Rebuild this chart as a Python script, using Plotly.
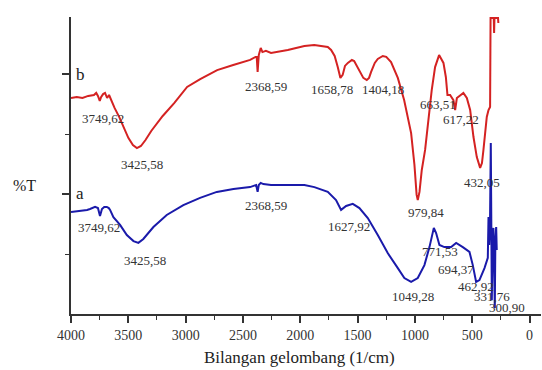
import plotly.graph_objects as go

# Spectrum b (red), wavenumber (1/cm) and transmittance (arbitrary %T units)
wn_b = [4000, 3950, 3900, 3850, 3800, 3780, 3765, 3749, 3738, 3720, 3703, 3685, 3668, 3650,
        3620, 3580, 3540, 3500, 3460, 3425, 3390, 3350, 3300, 3200, 3100, 2987, 2873, 2725,
        2585, 2437, 2390, 2380, 2372, 2362, 2345, 2330, 2300, 2255, 2109, 1964, 1878, 1818,
        1760, 1731, 1700, 1673, 1650, 1630, 1610, 1585, 1550, 1530, 1487, 1450, 1420, 1400,
        1382, 1350, 1324, 1280, 1250, 1208, 1149, 1094, 1033, 1004, 985, 975, 960, 940, 911,
        882, 853, 824, 789, 751, 730, 716, 693, 664, 649, 634, 605, 577, 547, 518, 489, 460,
        431, 415, 402, 373, 358, 344, 340, 312, 309, 306, 275, 272]
t_b = [72.0, 72.3, 72.0, 72.7, 73.0, 73.7, 72.7, 71.0, 72.3, 73.3, 73.7, 72.0, 73.0, 71.3,
       68.7, 65.7, 62.0, 58.7, 56.3, 55.3, 56.0, 58.0, 61.0, 66.0, 70.3, 75.7, 78.3, 81.3,
       83.0, 84.7, 85.7, 85.7, 80.7, 86.3, 88.7, 87.3, 87.7, 87.0, 88.0, 89.3, 89.7, 89.3,
       89.0, 88.0, 86.0, 82.3, 78.7, 79.7, 82.7, 83.7, 84.7, 84.3, 81.3, 78.7, 78.0, 78.7,
       80.7, 83.7, 85.0, 86.0, 85.7, 84.0, 78.7, 71.3, 60.3, 49.7, 39.7, 38.0, 40.7, 48.0, 54.7,
       64.7, 74.7, 82.3, 86.3, 83.7, 79.0, 73.0, 73.0, 71.3, 68.0, 72.0, 73.0, 73.7, 72.0, 68.0,
       59.0, 52.3, 48.7, 50.3, 54.7, 65.7, 68.0, 69.0, 98.7, 98.7, 93.7, 98.7, 98.7, 97.0]

# Spectrum a (blue)
wn_a = [4000, 3921, 3860, 3834, 3790, 3765, 3747, 3730, 3710, 3688, 3670, 3659, 3630, 3572,
        3513, 3455, 3412, 3369, 3281, 3165, 3020, 2874, 2728, 2583, 2438, 2385, 2372, 2362,
        2345, 2322, 2255, 2109, 1964, 1877, 1760, 1688, 1644, 1600, 1542, 1484, 1411, 1324,
        1237, 1149, 1092, 1033, 975, 917, 873, 835, 815, 786, 743, 684, 640, 582, 524, 495,
        466, 437, 393, 364, 358, 352, 345, 338, 333, 329, 322, 315, 310, 303, 298, 291, 286]
t_a = [34.0, 34.3, 34.7, 35.0, 35.7, 35.3, 32.7, 35.0, 35.7, 35.7, 35.3, 34.7, 32.3, 29.7,
       26.3, 24.3, 23.7, 25.0, 29.0, 33.0, 36.3, 38.7, 40.7, 41.7, 42.3, 43.0, 40.7, 43.0,
       43.7, 43.3, 43.0, 43.0, 43.0, 42.3, 40.7, 38.0, 34.7, 36.0, 36.7, 35.3, 32.0, 26.3,
       20.3, 15.3, 12.0, 10.7, 12.0, 16.3, 22.3, 28.7, 27.0, 23.0, 22.3, 22.3, 23.7, 22.3, 20.7, 16.3,
       10.7, 11.3, 15.3, 18.7, 32.3, 23.0, 29.7, 57.0, 21.3, 4.7, 24.7, 28.7, 18.0, 2.0, 24.7, 29.0, 21.3]

# Peak labels: text, wavenumber position, transmittance position
peak_text = ["3749,62", "3425,58", "2368,59", "1658,78", "1404,18", "663,51", "617,22",
             "432,05", "979,84",
             "3749,62", "3425,58", "2368,59", "1627,92", "771,53", "694,37", "1049,28",
             "462,92", "331,76", "300,90"]
peak_wn = [3720, 3380, 2299, 1722, 1278, 797, 597, 414, 902,
           3755, 3354, 2299, 1571, 780, 641, 1016, 466, 326, 196]
peak_t = [65.3, 49.7, 75.7, 75.0, 75.0, 69.7, 64.7, 44.0, 34.0,
          28.7, 17.7, 36.3, 29.3, 20.7, 14.7, 6.0, 9.3, 5.7, 2.3]

series_names = ["b", "a"]
series_label_wn = [3921, 3921]
series_label_t = [79.7, 40.3]

x_ticks = [4000, 3500, 3000, 2500, 2000, 1500, 1000, 500, 0]

FONT = "Liberation Serif"
TXT = "#333333"

fig = go.Figure()
fig.add_trace(go.Scatter(x=wn_b, y=t_b, mode="lines", line=dict(color="#d42222", width=2),
                         showlegend=False, hoverinfo="skip"))
fig.add_trace(go.Scatter(x=wn_a, y=t_a, mode="lines", line=dict(color="#1a1aaa", width=2),
                         showlegend=False, hoverinfo="skip"))

annotations = []
for txt, xv, yv in zip(peak_text, peak_wn, peak_t):
    annotations.append(dict(x=xv, y=yv, xref="x", yref="y", text=txt, showarrow=False,
                            font=dict(family=FONT, size=13, color=TXT),
                            xanchor="center", yanchor="middle"))
for txt, xv, yv in zip(series_names, series_label_wn, series_label_t):
    annotations.append(dict(x=xv, y=yv, xref="x", yref="y", text=txt, showarrow=False,
                            font=dict(family=FONT, size=17, color="#222222"),
                            xanchor="center", yanchor="middle"))
annotations.append(dict(x=-0.098, y=0.434, xref="paper", yref="paper", text="%T",
                        showarrow=False, font=dict(family=FONT, size=16, color="#222222"),
                        xanchor="center", yanchor="middle"))
annotations.append(dict(x=0.487, y=-0.148, xref="paper", yref="paper",
                        text="Bilangan gelombang (1/cm)", showarrow=False,
                        font=dict(family=FONT, size=17, color="#222222"),
                        xanchor="center", yanchor="middle"))

fig.update_layout(
    width=542, height=370,
    margin=dict(l=71, r=1, t=17, b=56),
    paper_bgcolor="white", plot_bgcolor="white",
    font=dict(family=FONT),
    annotations=annotations,
    xaxis=dict(range=[4000, -100], showgrid=False, zeroline=False,
               showline=True, linecolor="#333333", linewidth=1.5,
               ticks="outside", ticklen=7, tickwidth=1.5, tickcolor="#333333",
               tickvals=x_ticks, ticktext=[str(v) for v in x_ticks],
               tickfont=dict(family=FONT, size=14, color=TXT),
               minor=dict(ticks="outside", ticklen=4, tickwidth=1.2, tickcolor="#333333",
                          dtick=250, tick0=0, showgrid=False)),
    yaxis=dict(range=[0, 99], showgrid=False, zeroline=False,
               showline=True, linecolor="#333333", linewidth=1.5,
               ticks="outside", ticklen=7, tickwidth=1.5, tickcolor="#333333",
               tickvals=[40, 80], showticklabels=False,
               minor=dict(ticks="outside", ticklen=4, tickwidth=1.2, tickcolor="#333333",
                          tickvals=[20, 60], showgrid=False)),
)

fig.write_html("out.html")
